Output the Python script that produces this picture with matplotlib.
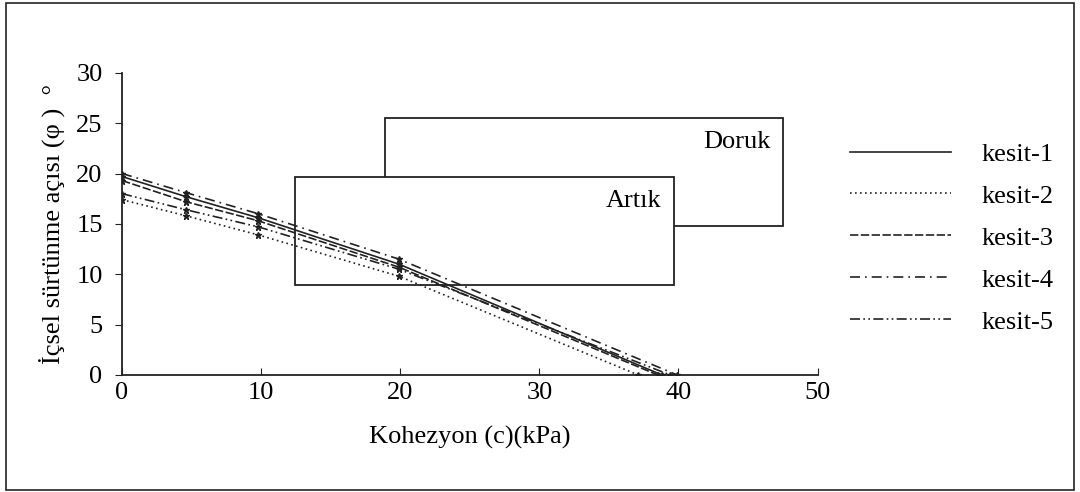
import matplotlib
matplotlib.use('Agg')
import matplotlib.pyplot as plt
from matplotlib.patches import Rectangle

plt.rcParams['font.family'] = ['Liberation Serif', 'DejaVu Serif']

# VERILER
kesitler = ['kesit-1', 'kesit-2', 'kesit-3', 'kesit-4', 'kesit-5']
c1 = [0, 4.6, 9.8, 19.9, 38.8]
phi1 = [19.7, 17.7, 15.6, 11.0, 0]
c2 = [0, 4.6, 9.8, 19.9, 37.1]
phi2 = [17.4, 15.8, 13.9, 9.8, 0]
c3 = [0, 4.6, 9.8, 19.9, 38.5]
phi3 = [19.3, 17.2, 15.3, 10.7, 0]
c4 = [0, 4.6, 9.8, 19.9, 39.9]
phi4 = [20.0, 18.1, 16.0, 11.5, 0]
c5 = [0, 4.6, 9.8, 19.9, 39.4]
phi5 = [18.0, 16.4, 14.7, 10.5, 0]

# kutular: (x, y, genislik, yukseklik)
doruk = (18.9, 14.8, 28.6, 10.7)
artik = (12.4, 8.9, 27.3, 10.8)

stiller = ['-', (0, (1, 2)), (0, (5, 1.5)), (0, (6, 3, 1, 3)), (0, (6, 2, 1, 2, 1, 2))]

FS = 19

fig = plt.figure(figsize=(10.8, 4.92), dpi=100)
ax = fig.add_axes([0.113, 0.238, 0.644, 0.614])

ax.add_patch(Rectangle(doruk[:2], doruk[2], doruk[3], fc='white', ec='#222222', lw=1.3, zorder=1))
ax.add_patch(Rectangle(artik[:2], artik[2], artik[3], fc='white', ec='#222222', lw=1.3, zorder=2))
ax.text(doruk[0] + doruk[2] - 0.9, doruk[1] + doruk[3] - 2.4, 'Doruk', ha='right', va='center', fontsize=FS, zorder=3)
ax.text(artik[0] + artik[2] - 0.9, artik[1] + artik[3] - 2.4, 'Artık', ha='right', va='center', fontsize=FS, zorder=3)

veri = [(c1, phi1), (c2, phi2), (c3, phi3), (c4, phi4), (c5, phi5)]
for (x, y), ls, ad in zip(veri, stiller, kesitler):
    ax.plot(x, y, color='#222222', lw=1.2, linestyle=ls, label=ad, zorder=4)
    ax.plot(x, y, color='#222222', lw=0, marker='*', ms=5, zorder=5)

ax.set_xlim(0, 50)
ax.set_ylim(0, 30)
ax.set_xticks([0, 10, 20, 30, 40, 50])
ax.set_yticks([0, 5, 10, 15, 20, 25, 30])
ax.spines['top'].set_visible(False)
ax.spines['right'].set_visible(False)
for s in ['left', 'bottom']:
    ax.spines[s].set_linewidth(1.3)
    ax.spines[s].set_color('#222222')
ax.tick_params(axis='x', direction='in', length=5, labelsize=FS, pad=5, color='#222222')
ax.tick_params(axis='y', direction='out', length=5, labelsize=FS, pad=9, color='#222222')
ax.set_xlabel('Kohezyon (c)(kPa)', fontsize=FS, labelpad=16)
ax.set_ylabel('İçsel sürtünme açısı (φ )  °', fontsize=FS, labelpad=8)

leg = ax.legend(loc='upper left', bbox_to_anchor=(1.046, 0.77), frameon=False, fontsize=FS,
                handlelength=3.86, handletextpad=1.15, labelspacing=0.7,
                borderpad=0, borderaxespad=0)

fig.add_artist(Rectangle((0.006, 0.004), 0.988, 0.99, transform=fig.transFigure,
                         fill=False, ec='#222222', lw=1.2))

fig.savefig('out.png', dpi=100)
